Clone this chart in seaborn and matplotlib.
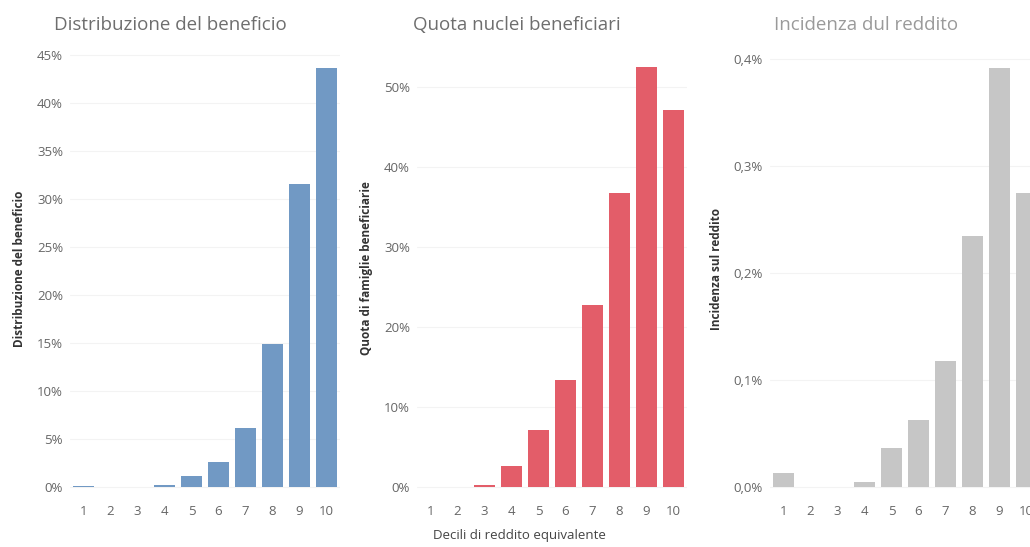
import matplotlib
matplotlib.use("Agg")
import matplotlib.pyplot as plt
import seaborn as sns
import numpy as np
from matplotlib.ticker import FuncFormatter

# dati (decili di reddito equivalente)
decili = ["1", "2", "3", "4", "5", "6", "7", "8", "9", "10"]
distribuzione = [0.1, 0.0, 0.0, 0.2, 1.1, 2.6, 6.1, 14.9, 31.6, 43.6]
quota_famiglie = [0.0, 0.0, 0.2, 2.6, 7.1, 13.4, 22.8, 36.7, 52.5, 47.1]
incidenza = [0.013, 0.0, 0.0, 0.005, 0.036, 0.063, 0.118, 0.235, 0.392, 0.275]

titoli = ["Distribuzione del beneficio", "Quota nuclei beneficiari", "Incidenza dul reddito"]
ylabels = ["Distribuzione del beneficio", "Quota di famiglie beneficiarie", "Incidenza sul reddito"]
colori = ["#7199c4", "#e35d69", "#c6c6c6"]

sns.set_style("white")
plt.rcParams["font.family"] = ["Open Sans", "DejaVu Sans"]

W, H = 1030, 547
fig = plt.figure(figsize=(W / 100, H / 100), dpi=100)


def box(left_px, top_px, width_px, bottom_px):
    return [left_px / W, 1 - bottom_px / H, width_px / W, (bottom_px - top_px) / H]


top, bottom = 40, 497
panels = [
    (70, 170, distribuzione, (-10 / 9.6, 447 / 9.6), [0, 5, 10, 15, 20, 25, 30, 35, 40, 45],
     lambda v, p: f"{v:.0f}%"),
    (417, 517, quota_famiglie, (-10 / 8.0, 447 / 8.0), [0, 10, 20, 30, 40, 50],
     lambda v, p: f"{v:.0f}%"),
    (770, 866, incidenza, (-10 / 1070, 447 / 1070), [0.0, 0.1, 0.2, 0.3, 0.4],
     lambda v, p: f"{v:.1f}%".replace(".", ",")),
]

for i, (left, title_x, valori, ylim, ticks, fmt) in enumerate(panels):
    ax = fig.add_axes(box(left, top, 270, bottom))
    sns.barplot(x=decili, y=valori, ax=ax, color=colori[i], width=0.76,
                saturation=1, order=decili, linewidth=0)
    ax.set_xlim(-0.5, 9.5)
    ax.set_ylim(*ylim)
    ax.set_yticks(ticks)
    ax.yaxis.set_major_formatter(FuncFormatter(fmt))
    ax.grid(axis="y", color="#f3f3f3", linewidth=0.8)
    ax.set_axisbelow(True)
    for s in ax.spines.values():
        s.set_visible(False)
    ax.tick_params(axis="both", length=0, labelsize=9.5, colors="#666666")
    ax.tick_params(axis="y", pad=5)
    ax.tick_params(axis="x", pad=6)
    ax.set_ylabel(ylabels[i], fontsize=8.5, fontweight="bold", color="#333333", labelpad=8)
    ax.set_xlabel("")
    fig.text(title_x / W, 1 - 25 / H, titoli[i], ha="center", va="center",
             fontsize=13.5, color="#6e6e6e" if i < 2 else "#9a9a9a")

fig.text(519 / W, 1 - 536 / H, "Decili di reddito equivalente",
         ha="center", va="center", fontsize=9.5, color="#444444")

fig.savefig("out.png", dpi=100)
